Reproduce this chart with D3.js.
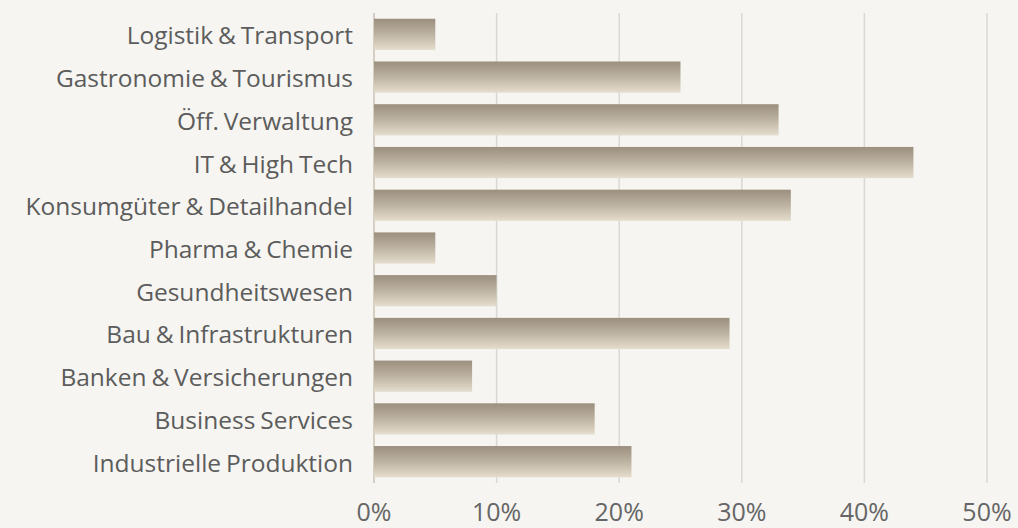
<!DOCTYPE html>
<html>
<head>
<meta charset="utf-8">
<script src="https://cdn.jsdelivr.net/npm/d3@7"></script>
<style>
    body { margin: 0; background: #f6f5f1; }
    svg { display: block; }
    .catLabel { font-family: "Open Sans", sans-serif; font-size: 24.5px; fill: #5c5c5c; word-spacing: -1.5px; }
    .tickLabel { font-family: "Open Sans", sans-serif; font-size: 25px; fill: #666; }
</style>
</head>
<body>
<script>
(function () {

    var categories = ["Logistik & Transport", "Gastronomie & Tourismus", "Öff. Verwaltung", "IT & High Tech",
        "Konsumgüter & Detailhandel", "Pharma & Chemie", "Gesundheitswesen", "Bau & Infrastrukturen",
        "Banken & Versicherungen", "Business Services", "Industrielle Produktion"];
    var shares = [5, 25, 33, 44, 34, 5, 10, 29, 8, 18, 21];
    var tickValues = [0, 10, 20, 30, 40, 50];

    var width = 1018,
        height = 528;
    var margin = { top: 13, right: 31, bottom: 45, left: 374 };

    var svg = d3.select("body")
        .append("svg")
        .attr("width", width)
        .attr("height", height);

    svg.append("rect")
        .attr("width", width)
        .attr("height", height)
        .attr("fill", "#f6f5f1");

    //bar gradient, dark on top fading to light
    var grad = svg.append("defs")
        .append("linearGradient")
        .attr("id", "barGrad")
        .attr("x1", 0).attr("y1", 0)
        .attr("x2", 0).attr("y2", 1);
    grad.append("stop").attr("offset", "0%").attr("stop-color", "#9b8f7e");
    grad.append("stop").attr("offset", "50%").attr("stop-color", "#bdb3a2");
    grad.append("stop").attr("offset", "100%").attr("stop-color", "#e5ddcd");

    var x = d3.scaleLinear()
        .domain([0, 50])
        .range([margin.left, width - margin.right]);

    var y = d3.scaleBand()
        .domain(categories)
        .range([margin.top, height - margin.bottom])
        .paddingInner(0.27)
        .paddingOuter(0.135);

    //vertical grid lines
    svg.selectAll(".gridLine")
        .data(tickValues.slice(1))
        .enter()
        .append("line")
        .attr("class", "gridLine")
        .attr("x1", function (d) { return x(d); })
        .attr("x2", function (d) { return x(d); })
        .attr("y1", margin.top)
        .attr("y2", height - margin.bottom)
        .attr("stroke", "#dad8d4")
        .attr("stroke-width", 1.5);

    //baseline
    svg.append("line")
        .attr("x1", x(0)).attr("x2", x(0))
        .attr("y1", margin.top)
        .attr("y2", height - margin.bottom)
        .attr("stroke", "#c9c1b3")
        .attr("stroke-width", 1.5);

    svg.selectAll(".bar")
        .data(shares)
        .enter()
        .append("rect")
        .attr("class", "bar")
        .attr("x", x(0))
        .attr("y", function (d, i) { return y(categories[i]); })
        .attr("width", function (d) { return x(d) - x(0); })
        .attr("height", y.bandwidth())
        .attr("fill", "url(#barGrad)");

    //category labels
    svg.selectAll(".catLabel")
        .data(categories)
        .enter()
        .append("text")
        .attr("class", "catLabel")
        .attr("text-anchor", "end")
        .attr("x", margin.left - 21)
        .attr("y", function (d) { return y(d) + y.bandwidth() / 2 + 10; })
        .text(function (d) { return d; });

    //x axis tick labels
    svg.selectAll(".tickLabel")
        .data(tickValues)
        .enter()
        .append("text")
        .attr("class", "tickLabel")
        .attr("text-anchor", "middle")
        .attr("x", function (d) { return x(d); })
        .attr("y", 521)
        .text(function (d) { return d + "%"; });
})();
</script>
</body>
</html>
